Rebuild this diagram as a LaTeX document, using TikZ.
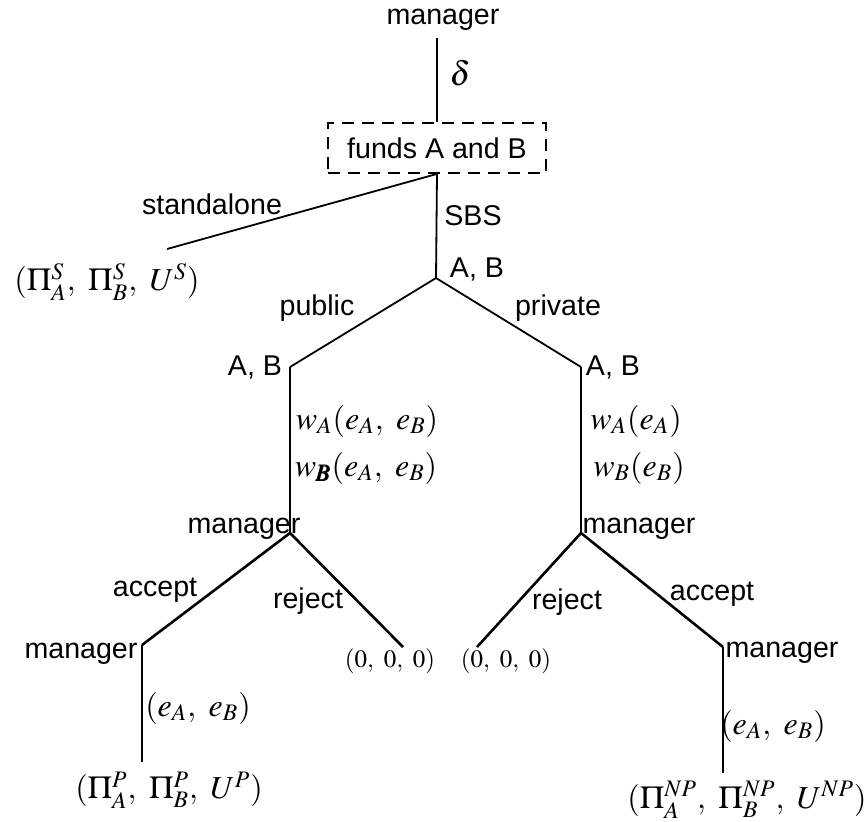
\documentclass[tikz,border=0pt]{standalone}
\usepackage{mathptmx}
\usepackage{amsmath}
\usepackage[no-math]{fontspec}
\setmainfont{Liberation Sans}
\usetikzlibrary{calc}

\begin{document}
\begin{tikzpicture}[x=0.5pt,y=-0.5pt,
  every node/.style={font=\fontsize{14.3}{17}\selectfont,inner sep=1pt},
  mth/.style={font=\fontsize{16}{19}\selectfont},
  nil/.style={font=\fontsize{12.5}{15}\selectfont},
  branch/.style={line width=0.9pt},
  move/.style={line width=1.3pt},
  twig/.style={line width=0.65pt}]
\useasboundingbox (0,0) rectangle (866,821);
% decision points
\coordinate (root) at (436,278);
\coordinate (pub) at (290,367);
\coordinate (pri) at (581,367);
\coordinate (mpub) at (290,533);
\coordinate (mpri) at (581,533);
\coordinate (apub) at (142,645);
\coordinate (apri) at (723,647);
\coordinate (rpub) at (403,647);
\coordinate (rpri) at (477,647);
\coordinate (sEnd) at (167,249);
\coordinate (epub) at (142,762);
\coordinate (epri) at (723,773);

\node (top) at (443,20) {manager};
\node[draw,dash pattern=on 6pt off 4pt,line width=0.9pt,minimum width=109pt,minimum height=25pt] (funds) at (437,148) {funds A and B};
\draw[branch,shorten <=2.5pt] (funds.north |- top.south) -- (funds.north);
\node[font=\fontsize{17}{20}\selectfont] (delta) at (460,73) {$\delta$};

\draw[branch] (funds.south) -- (sEnd);
\draw[branch] (funds.south) -- (root);
\draw[branch] (pub) -- (root) -- (pri);
\draw[branch] (pub) -- (mpub);
\draw[branch] (pri) -- (mpri);
\draw[move] (apub) -- (mpub) -- (rpub);
\draw[move] (rpri) -- (mpri) -- (apri);
\draw[twig] (apub) -- (epub);
\draw[twig] (apri) -- (epri);

\node (standalone) at (212,204) {standalone};
\node[mth] (leafS) at (107,282) {$(\Pi_A^S,\ \Pi_B^S,\ U^S)$};
\node (sbs) at (473,216) {SBS};
\node (abTop) at (477,269) {A, B};
\node (public) at (317,308) {public};
\node (private) at (558,308) {private};
\node (abPub) at (255,367) {A, B};
\node (abPri) at (613,367) {A, B};
\node[mth] (waPub) at (367,421) {$w_A(e_A,\ e_B)$};
\node[mth] (wbPub) at (366,468) {$w_{\pmb{B}}(e_A,\ e_B)$};
\node[mth] (waPri) at (636,421) {$w_A(e_A)$};
\node[mth] (wbPri) at (639,468) {$w_B(e_B)$};
\node (mgPub) at (244,529) {manager};
\node (mgPri) at (639,529) {manager};
\node (accPub) at (155,590) {accept};
\node (rejPub) at (308,601) {reject};
\node (rejPri) at (567,602) {reject};
\node (accPri) at (712,594) {accept};
\node[nil] (zeroPub) at (390,661) {$(0,\ 0,\ 0)$};
\node[nil] (zeroPri) at (506,661) {$(0,\ 0,\ 0)$};
\node (mgAccPub) at (81,654) {manager};
\node (mgAccPri) at (782,653) {manager};
\node[mth] (effPub) at (198,708) {$(e_A,\ e_B)$};
\node[mth] (effPri) at (773,726) {$(e_A,\ e_B)$};
\node[mth] (leafP) at (169,790) {$(\Pi_A^P,\ \Pi_B^P,\ U^P)$};
\node[mth] (leafNP) at (747,800) {$(\Pi_A^{NP},\ \Pi_B^{NP},\ U^{NP})$};
\end{tikzpicture}
\end{document}
